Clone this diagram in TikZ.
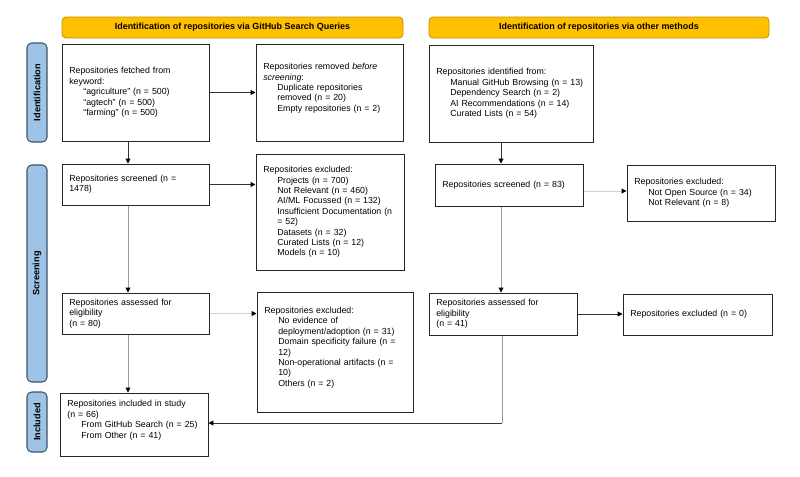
\documentclass[tikz,border=0pt]{standalone}
\usepackage{fontspec}
\setmainfont{Liberation Sans}
\usetikzlibrary{arrows.meta,calc}
\newcommand\myind{\hspace*{10.5pt}}
\definecolor{hdrfill}{RGB}{255,192,0}
\definecolor{hdrdraw}{RGB}{191,144,0}
\definecolor{sidefill}{RGB}{157,195,230}
\definecolor{sidedraw}{RGB}{64,84,106}
\begin{document}
\begin{tikzpicture}[x=0.75pt,y=-0.75pt,
  every node/.style={font=\fontsize{6.6}{7.8}\selectfont},
  box/.style 2 args={draw=black!85, line width=0.75pt, minimum width=#1, minimum height=#2,
    text width=\dimexpr #1-11pt\relax, inner xsep=5.5pt, inner ysep=2pt, align=left},
  hdr/.style={draw=hdrdraw, fill=hdrfill, rounded corners=3pt, line width=0.6pt,
    minimum height=15.75pt, minimum width=#1, font=\fontsize{6.7}{7.8}\selectfont\bfseries},
  side/.style={draw=sidedraw, fill=sidefill, rounded corners=3.5pt, line width=0.8pt,
    rotate=90, minimum height=15pt, minimum width=#1, inner sep=0pt,
    font=\fontsize{6.9}{7.8}\selectfont\bfseries},
  arr/.style={line width=0.7pt, -{Triangle[length=3.6pt,width=3.6pt,color=black]}},
  dark/.style={draw=black!80},
  mid/.style={draw=black!40},
  light/.style={draw=black!18},
]
\useasboundingbox (0,0) rectangle (800,476);

% headers
\node[hdr=255.75pt] (h1) at (232.5,27.5) {Identification of repositories via GitHub Search Queries};
\node[hdr=255pt] (h2) at (599,27.5) {Identification of repositories via other methods};

% side labels
\node[side=74.25pt] (s1) at (37,92.5) {Identification};
\node[side=162.75pt] (s2) at (37,273.5) {Screening};
\node[side=45pt] (s3) at (37,422) {Included};

% boxes
\node[box={110.25pt}{72.75pt}] (A) at (135.5,92.5) {Repositories fetched from\\keyword:\\\myind“agriculture” (n = 500)\\\myind“agtech” (n = 500)\\\myind“farming” (n = 500)};
\node[box={110.25pt}{72.75pt}] (B) at (329.5,92.5) {Repositories removed \textit{before}\\\textit{screening}:\\\myind Duplicate repositories\\\myind removed (n = 20)\\\myind Empty repositories (n = 2)\\\mbox{}};
\node[box={123pt}{72.75pt}] (C) at (511,93.5) {Repositories identified from:\\\myind Manual GitHub Browsing (n = 13)\\\myind Dependency Search (n = 2)\\\myind AI Recommendations (n = 14)\\\myind Curated Lists (n = 54)};

\node[box={110.25pt}{30.75pt}] (D) at (135.5,184.5) {Repositories screened (n =\\1478)};
\node[box={111pt}{87pt}] (E) at (330,212) {Repositories excluded:\\\myind Projects (n = 700)\\\myind Not Relevant (n = 460)\\\myind AI/ML Focussed (n = 132)\\\myind Insufficient Documentation (n\\\myind = 52)\\\myind Datasets (n = 32)\\\myind Curated Lists (n = 12)\\\myind Models (n = 10)};
\node[box={111pt}{31.5pt}] (F) at (509,185) {Repositories screened (n = 83)};
\node[box={111pt}{42pt}] (G) at (701,193) {Repositories excluded:\\\myind Not Open Source (n = 34)\\\myind Not Relevant (n = 8)};

\node[box={110.25pt}{30.75pt}] (H) at (135.5,313.5) {Repositories assessed for\\eligibility\\(n = 80)};
\node[box={117pt}{90pt}] (I) at (335,352) {Repositories excluded:\\\myind No evidence of\\\myind deployment/adoption (n = 31)\\\myind Domain specificity failure (n =\\\myind 12)\\\myind Non-operational artifacts (n =\\\myind 10)\\\myind Others (n = 2)\\\mbox{}};
\node[box={111pt}{31.5pt}] (J) at (503,314) {Repositories assessed for\\eligibility\\(n = 41)};
\node[box={111.75pt}{30.75pt}] (K) at (697.5,314.5) {Repositories excluded (n = 0)};

\node[box={111pt}{47.25pt}] (L) at (134,424.5) {Repositories included in study\\(n = 66)\\\myind From GitHub Search (n = 25)\\\myind From Other (n = 41)\\\mbox{}};

% column coordinates
\coordinate (xl) at (128,0);
\coordinate (xr) at (501,0);
\coordinate (yfg) at (0,191);
\coordinate (corner) at (502,423);

% connectors
\draw[arr,dark] (A) -- (B);
\draw[arr,dark] (A.south -| xl) -- (D.north -| xl);
\draw[arr,dark] (D.east) -- (D.east -| E.west);
\draw[arr,mid] (D.south -| xl) -- (H.north -| xl);
\draw[arr,light] (H.east) -- (H.east -| I.west);
\draw[arr,mid] (H.south -| xl) -- (L.north -| xl);

\draw[arr,dark] (C.south -| xr) -- (F.north -| xr);
\draw[arr,light] (F.east |- yfg) -- (G.west |- yfg);
\draw[arr,mid] (F.south -| xr) -- (J.north -| xr);
\draw[arr,dark] (J.east) -- (J.east -| K.west);
\draw[line width=0.7pt,mid] (J.south -| corner) -- (corner);
\draw[arr,dark] (corner) -- (corner -| L.east);
\end{tikzpicture}
\end{document}
